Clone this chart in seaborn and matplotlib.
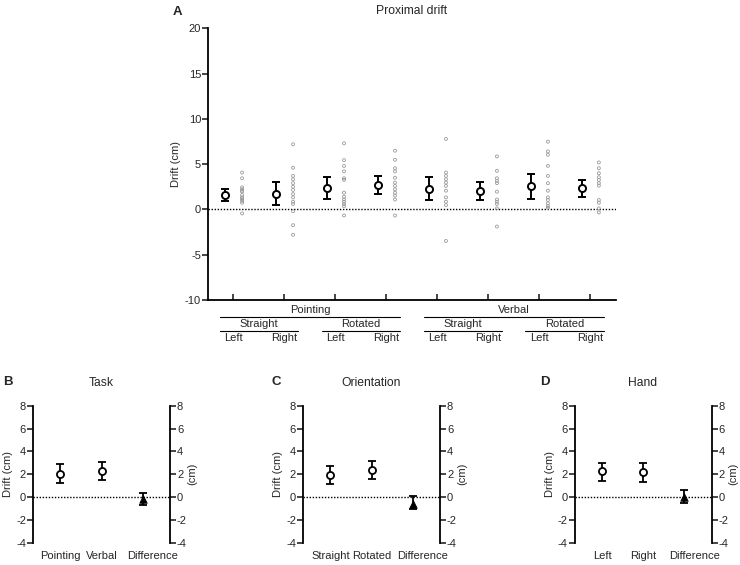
import matplotlib
matplotlib.use("Agg")
import matplotlib.pyplot as plt
import seaborn as sns
import numpy as np
import pandas as pd

sns.set_theme(style="white")
plt.rcParams['font.family'] = ['Liberation Sans', 'DejaVu Sans']
plt.rcParams['axes.unicode_minus'] = False

# ---------------- Data ----------------
conditions = ["P-S-L", "P-S-R", "P-R-L", "P-R-R", "V-S-L", "V-S-R", "V-R-L", "V-R-R"]
cond_means = [1.59, 1.70, 2.33, 2.74, 2.30, 2.04, 2.60, 2.33]
cond_upper = [2.20, 3.00, 3.60, 3.67, 3.56, 3.04, 3.96, 3.22]
cond_lower = [0.92, 0.44, 1.10, 1.74, 1.04, 1.04, 1.19, 1.37]

ind_psl = [4.07, 3.44, 2.44, 2.22, 1.96, 1.59, 1.33, 1.11, 0.74, 0.95, 1.25, 2.05, -0.44]
ind_psr = [7.19, 4.60, 3.70, 3.33, 2.90, 2.50, 2.15, 1.70, 1.33, 0.85, 0.60, -0.20, -1.74, -2.80]
ind_prl = [7.30, 5.44, 4.80, 4.20, 3.44, 3.26, 1.85, 1.40, 1.10, 0.85, 0.60, 0.37, -0.67]
ind_prr = [6.48, 5.48, 4.55, 4.20, 3.50, 2.96, 2.60, 2.22, 1.85, 1.52, 1.10, -0.67]
ind_vsl = [7.78, 4.07, 3.70, 3.33, 2.96, 2.60, 2.07, 1.33, 0.85, 0.48, -3.48]
ind_vsr = [5.85, 4.26, 3.44, 3.15, 2.90, 1.96, 1.10, 0.85, 0.60, 0.11, -1.89]
ind_vrl = [7.48, 6.40, 6.04, 4.81, 3.70, 2.90, 2.07, 1.33, 1.04, 0.67, 0.37, 0.19]
ind_vrr = [5.19, 4.55, 4.00, 3.56, 3.26, 2.90, 2.63, 1.04, 0.74, 0.11, -0.33]
individual = [ind_psl, ind_psr, ind_prl, ind_prr, ind_vsl, ind_vsr, ind_vrl, ind_vrr]

level1_labels = ["Left", "Right"] * 4
level2_labels = ["Straight", "Rotated", "Straight", "Rotated"]
level3_labels = ["Pointing", "Verbal"]

task_labels = ["Pointing", "Verbal", "Difference"]
task_means = [2.04, 2.25, -0.18]
task_upper = [2.86, 3.07, 0.35]
task_lower = [1.26, 1.46, -0.73]

orient_labels = ["Straight", "Rotated", "Difference"]
orient_means = [1.96, 2.39, -0.58]
orient_upper = [2.72, 3.18, 0.06]
orient_lower = [1.11, 1.58, -1.02]

hand_labels = ["Left", "Right", "Difference"]
hand_means = [2.25, 2.16, 0.00]
hand_upper = [3.00, 2.95, 0.64]
hand_lower = [1.40, 1.34, -0.50]

# ---------------- Figure ----------------
fig = plt.figure(figsize=(7.4, 5.65), dpi=100)
TICK_FS = 8
LAB_FS = 8
TITLE_FS = 8.7

# ---- Panel A ----
ax = fig.add_axes([0.281, 0.469, 0.551, 0.481])
pos = np.arange(len(conditions))
rows = []
for i, vals in enumerate(individual):
    for v in vals:
        rows.append({"x": i + 0.17, "y": v})
df_ind = pd.DataFrame(rows)
sns.scatterplot(data=df_ind, x="x", y="y", ax=ax, marker="o", s=4.5,
                facecolor="none", edgecolor="#9a9a9a", linewidth=0.6, zorder=3)
mx = pos - 0.17
m = np.array(cond_means)
yerr = np.vstack([m - np.array(cond_lower), np.array(cond_upper) - m])
ax.errorbar(mx, m, yerr=yerr, fmt="none", ecolor="black", elinewidth=1.4,
            capsize=3, capthick=1.4, zorder=4)
df_m = pd.DataFrame({"x": mx, "y": m})
sns.scatterplot(data=df_m, x="x", y="y", ax=ax, marker="o", s=26,
                facecolor="white", edgecolor="black", linewidth=1.4, zorder=5)
ax.axhline(0, ls=(0, (1, 1.2)), color="black", lw=1.0, zorder=2)
ax.set_xlim(-0.5, 7.5)
ax.set_ylim(-10, 20)
ax.set_yticks([-10, -5, 0, 5, 10, 15, 20])
ax.set_xticks(pos)
ax.set_xticklabels([])
ax.set_xlabel("")
ax.set_ylabel("Drift (cm)", fontsize=LAB_FS, labelpad=3)
for s in ["top", "right"]:
    ax.spines[s].set_visible(False)
for s in ["left", "bottom"]:
    ax.spines[s].set_linewidth(1.3)
    ax.spines[s].set_color("black")
ax.tick_params(axis="y", direction="out", length=4, width=1.2, labelsize=TICK_FS, pad=1, left=True)
ax.tick_params(axis="x", direction="in", length=4, width=1.2, bottom=True)
ax.set_title("Proximal drift", fontsize=TITLE_FS, pad=10)
fig.text(177 / 740, 1 - 12 / 565, "A", fontsize=9.5, fontweight="bold", ha="center", va="center")

tr = ax.get_xaxis_transform()
for i, lab in enumerate(level1_labels):
    ax.text(i, -0.138, lab, transform=tr, ha="center", va="center", fontsize=LAB_FS, clip_on=False)
for j, lab in enumerate(level2_labels):
    a, b = 2 * j, 2 * j + 1
    ax.plot([a - 0.27, b + 0.27], [-0.114, -0.114], transform=tr, color="black", lw=0.8, clip_on=False)
    ax.text((a + b) / 2, -0.087, lab, transform=tr, ha="center", va="center", fontsize=LAB_FS, clip_on=False)
for k, lab in enumerate(level3_labels):
    a, b = 4 * k, 4 * k + 3
    ax.plot([a - 0.27, b + 0.27], [-0.0625, -0.0625], transform=tr, color="black", lw=0.8, clip_on=False)
    ax.text((a + b) / 2, -0.038, lab, transform=tr, ha="center", va="center", fontsize=LAB_FS, clip_on=False)


# ---- Bottom panels ----
def small_panel(left_px, labels, means, upper, lower, title, letter, letter_x):
    axb = fig.add_axes([left_px / 740, 0.0395, 137 / 740, 0.2425])
    x = np.arange(3)
    mm = np.array(means)
    err = np.vstack([mm - np.array(lower), np.array(upper) - mm])
    axb.errorbar(x, mm, yerr=err, fmt="none", ecolor="black", elinewidth=1.3,
                 capsize=3, capthick=1.3, zorder=4)
    dfp = pd.DataFrame({"x": x[:2], "y": mm[:2]})
    sns.scatterplot(data=dfp, x="x", y="y", ax=axb, marker="o", s=26,
                    facecolor="white", edgecolor="black", linewidth=1.3, zorder=5)
    dfd = pd.DataFrame({"x": x[2:], "y": mm[2:]})
    sns.scatterplot(data=dfd, x="x", y="y", ax=axb, marker="^", s=30,
                    color="black", edgecolor="black", linewidth=0.5, zorder=5)
    axb.axhline(0, ls=(0, (1, 1.2)), color="black", lw=1.0, zorder=2)
    axb.set_xlim(-0.67, 2.67)
    axb.set_ylim(-4, 8)
    axb.set_yticks([-4, -2, 0, 2, 4, 6, 8])
    # tick marks are hidden; the "Difference" label sits a little right of its point
    axb.set_xticks([0, 1, 2.25])
    axb.set_xticklabels(labels, fontsize=LAB_FS)
    axb.set_xlabel("")
    axb.set_ylabel("Drift (cm)", fontsize=LAB_FS, labelpad=2)
    axb.tick_params(axis="x", length=0, pad=6)
    axb.tick_params(axis="y", direction="out", length=4, width=1.2, labelsize=TICK_FS, pad=1, left=True)
    for s in ["top", "right", "bottom"]:
        axb.spines[s].set_visible(False)
    axb.spines["left"].set_linewidth(1.3)
    axb.spines["left"].set_color("black")
    axr = axb.twinx()
    axr.set_ylim(-4, 8)
    axr.set_yticks([-4, -2, 0, 2, 4, 6, 8])
    axr.set_ylabel("")
    axr.tick_params(axis="y", direction="out", length=4, width=1.2, labelsize=TICK_FS, pad=1, right=True)
    for s in ["top", "left", "bottom"]:
        axr.spines[s].set_visible(False)
    axr.spines["right"].set_visible(True)
    axr.spines["right"].set_linewidth(1.3)
    axr.spines["right"].set_color("black")
    axr.grid(False)
    fig.text((left_px + 137 + 22) / 740, 1 - 474 / 565, "(cm)", rotation=90,
             fontsize=LAB_FS, ha="center", va="center")
    axb.set_title(title, fontsize=TITLE_FS, pad=14)
    fig.text(letter_x / 740, 1 - 382 / 565, letter, fontsize=9.5, fontweight="bold", ha="center", va="center")


small_panel(33, task_labels, task_means, task_upper, task_lower, "Task", "B", 8)
small_panel(303, orient_labels, orient_means, orient_upper, orient_lower, "Orientation", "C", 276)
small_panel(574.5, hand_labels, hand_means, hand_upper, hand_lower, "Hand", "D", 545)

fig.savefig("out.png", dpi=100)
